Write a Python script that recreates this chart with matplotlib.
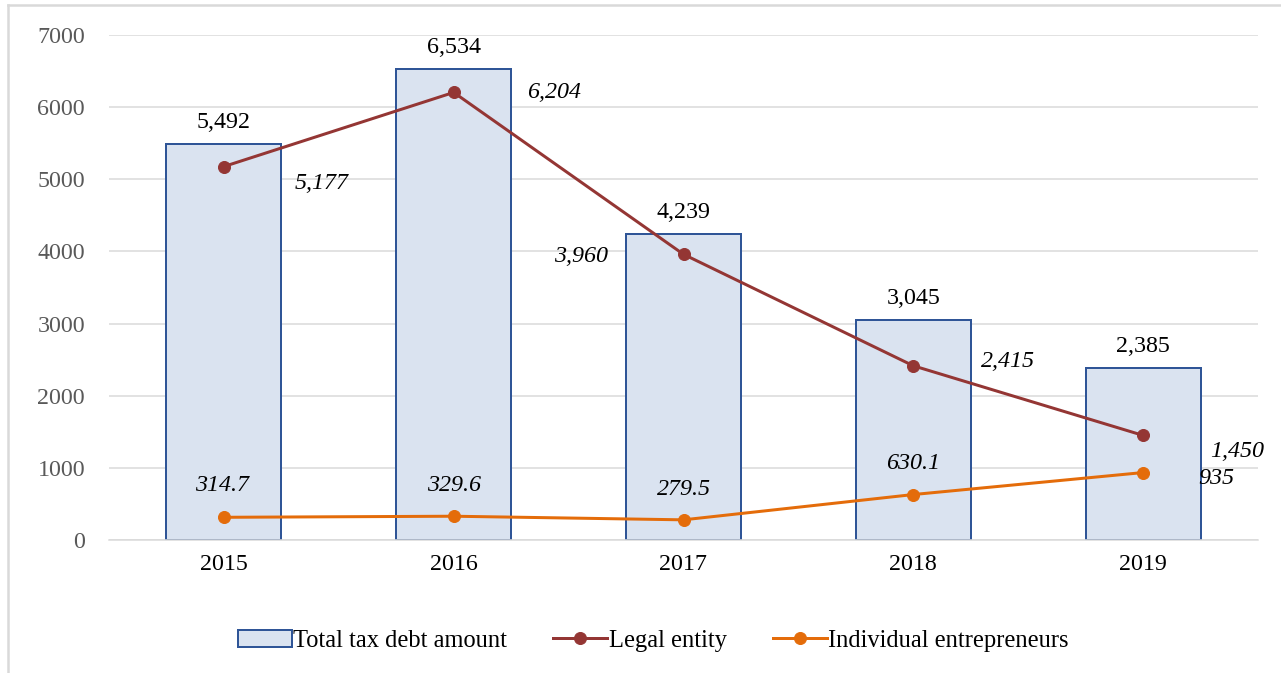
# Tax debt bars with legal entity / individual entrepreneur lines
import matplotlib.pyplot as plt
from matplotlib.lines import Line2D

years = ['2015', '2016', '2017', '2018', '2019']
total_debt = [5492, 6534, 4239, 3045, 2385]
legal_entity = [5177, 6204, 3960, 2415, 1450]
individual = [314.7, 329.6, 279.5, 630.1, 935]

total_labels = ['5,492', '6,534', '4,239', '3,045', '2,385']
legal_labels = ['5,177', '6,204', '3,960', '2,415', '1,450']
indiv_labels = ['314.7', '329.6', '279.5', '630.1', '935']

# label offsets in points (dpi 72 -> points == pixels)
legal_offsets = [(98, -17), (100, 0), (-102, -2), (95, 4), (94, -16)]
indiv_offsets = [(-2, 32), (0, 31), (0, 30), (0, 31), (73, -6)]

plt.rcParams['font.family'] = ['Liberation Serif', 'DejaVu Serif']

fig = plt.figure(figsize=(1281 / 72, 673 / 72), dpi=72)
ax = fig.add_axes([109 / 1281, 1 - 540 / 673, (1258 - 109) / 1281, (540 - 35) / 673])

x = range(len(years))
ax.bar(x, total_debt, width=0.5, color='#DAE3F0', edgecolor='#2F5597', linewidth=2, zorder=2)
ax.plot(x, legal_entity, color='#943634', linewidth=3, marker='o', markersize=12, zorder=3)
ax.plot(x, individual, color='#E46C0A', linewidth=3, marker='o', markersize=12, zorder=3)

for i in x:
    ax.annotate(total_labels[i], (i, total_debt[i]), xytext=(0, 11), textcoords='offset points',
                ha='center', va='bottom', fontsize=24)
    ax.annotate(legal_labels[i], (i, legal_entity[i]), xytext=legal_offsets[i], textcoords='offset points',
                ha='center', va='center', fontsize=24, style='italic')
    ax.annotate(indiv_labels[i], (i, individual[i]), xytext=indiv_offsets[i], textcoords='offset points',
                ha='center', va='center', fontsize=24, style='italic')

ax.set_xlim(-0.5, 4.5)
ax.set_ylim(0, 7000)
ax.set_yticks(range(0, 7001, 1000))
ax.set_xticks(list(x))
ax.set_xticklabels(years)
ax.tick_params(axis='both', length=0, labelsize=24, colors='#595959')
ax.tick_params(axis='x', pad=14, labelcolor='black')
ax.tick_params(axis='y', pad=24)
ax.grid(axis='y', color='#D9D9D9', linewidth=1.5, zorder=0)
ax.set_axisbelow(True)
for s in ['top', 'right', 'left']:
    ax.spines[s].set_visible(False)
ax.spines['bottom'].set_color('#D9D9D9')
ax.spines['bottom'].set_linewidth(1.5)

handles = [
    plt.Rectangle((0, 0), 1, 1, facecolor='#DAE3F0', edgecolor='#2F5597', linewidth=2),
    Line2D([], [], color='#943634', linewidth=3, marker='o', markersize=12),
    Line2D([], [], color='#E46C0A', linewidth=3, marker='o', markersize=12),
]
fig.legend(handles, ['Total tax debt amount', 'Legal entity', 'Individual entrepreneurs'],
           loc='center', bbox_to_anchor=(0.51, 1 - 641 / 673), ncol=3, frameon=False,
           fontsize=24.5, handlelength=2.2, handletextpad=0.05, columnspacing=1.9)

# light frame on the left and top edges
fig.add_artist(Line2D([8 / 1281, 8 / 1281], [0, 1 - 5 / 673], color='#D9D9D9', linewidth=2.5))
fig.add_artist(Line2D([8 / 1281, 1], [1 - 5 / 673, 1 - 5 / 673], color='#D9D9D9', linewidth=2.5))

fig.savefig('out.png', dpi=72)
